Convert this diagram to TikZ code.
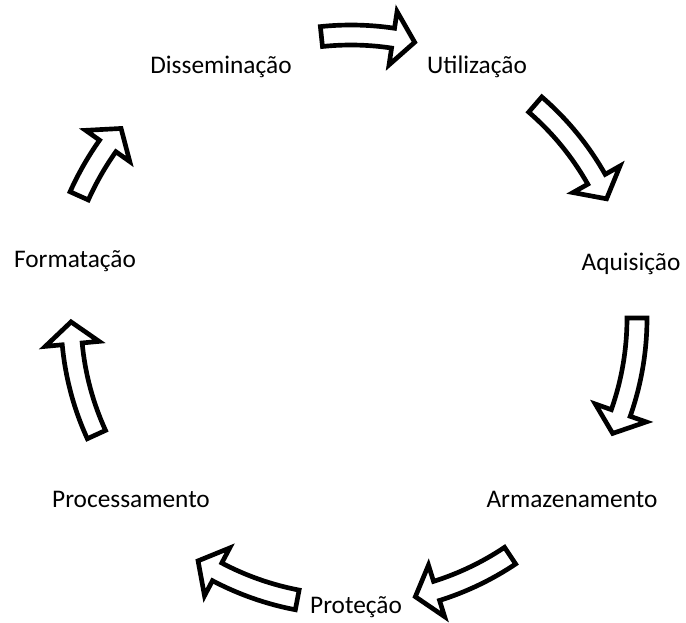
\documentclass[tikz,border=0pt]{standalone}
\usepackage{fontspec}
\setmainfont{Carlito}
% curved block arrow on a circle around the cycle centre
% #1 radius, #2 tail angle, #3 tip angle (degrees, clockwise on the page)
\newcommand\cyclearrow[3]{%
  \pgfmathsetmacro\headang{#3-22/#1*57.2958}%
  \draw[blockarrow,shift={(351,-318)}]
    ({-#2}:{(#1+10)*0.75pt})
      arc[start angle={-#2}, end angle={-\headang}, radius={(#1+10)*0.75pt}]
    -- ({-\headang}:{(#1+27)*0.75pt})
    -- ({-#3}:{#1*0.75pt})
    -- ({-\headang}:{(#1-27)*0.75pt})
    -- ({-\headang}:{(#1-10)*0.75pt})
      arc[start angle={-\headang}, end angle={-#2}, radius={(#1-10)*0.75pt}]
    -- cycle;}
\begin{document}
\begin{tikzpicture}[x=0.75pt,y=0.75pt,
  font=\fontsize{19}{23}\selectfont,
  blockarrow/.style={draw=black, fill=white, line width=3.5pt, line join=miter, miter limit=4},
  lbl/.style={anchor=base, inner sep=0pt, text=black}]
\useasboundingbox (0,0) rectangle (686,-622);

% stage labels
\node[lbl] (diss)  at (221,-73)  {Disseminação};
\node[lbl] (util)  at (477,-73)  {Utilização};
\node[lbl] (aquis) at (631,-270) {Aquisição};
\node[lbl] (form)  at (75,-267)  {Formatação};
\node[lbl] (proc)  at (131,-507) {Processamento};
\node[lbl] (armaz) at (572,-507) {Armazenamento};
\node[lbl] (prot)  at (356,-613) {Proteção};

% arrows of the cycle, clockwise
\cyclearrow{283}{264}{283}
\cyclearrow{282}{310.8}{335}
\cyclearrow{286}{0}{23.8}
\cyclearrow{286}{56.2}{77}
\cyclearrow{287}{100.8}{122.2}
\cyclearrow{280}{155.4}{179.2}
\cyclearrow{298}{204.2}{219.5}
\end{tikzpicture}
\end{document}
